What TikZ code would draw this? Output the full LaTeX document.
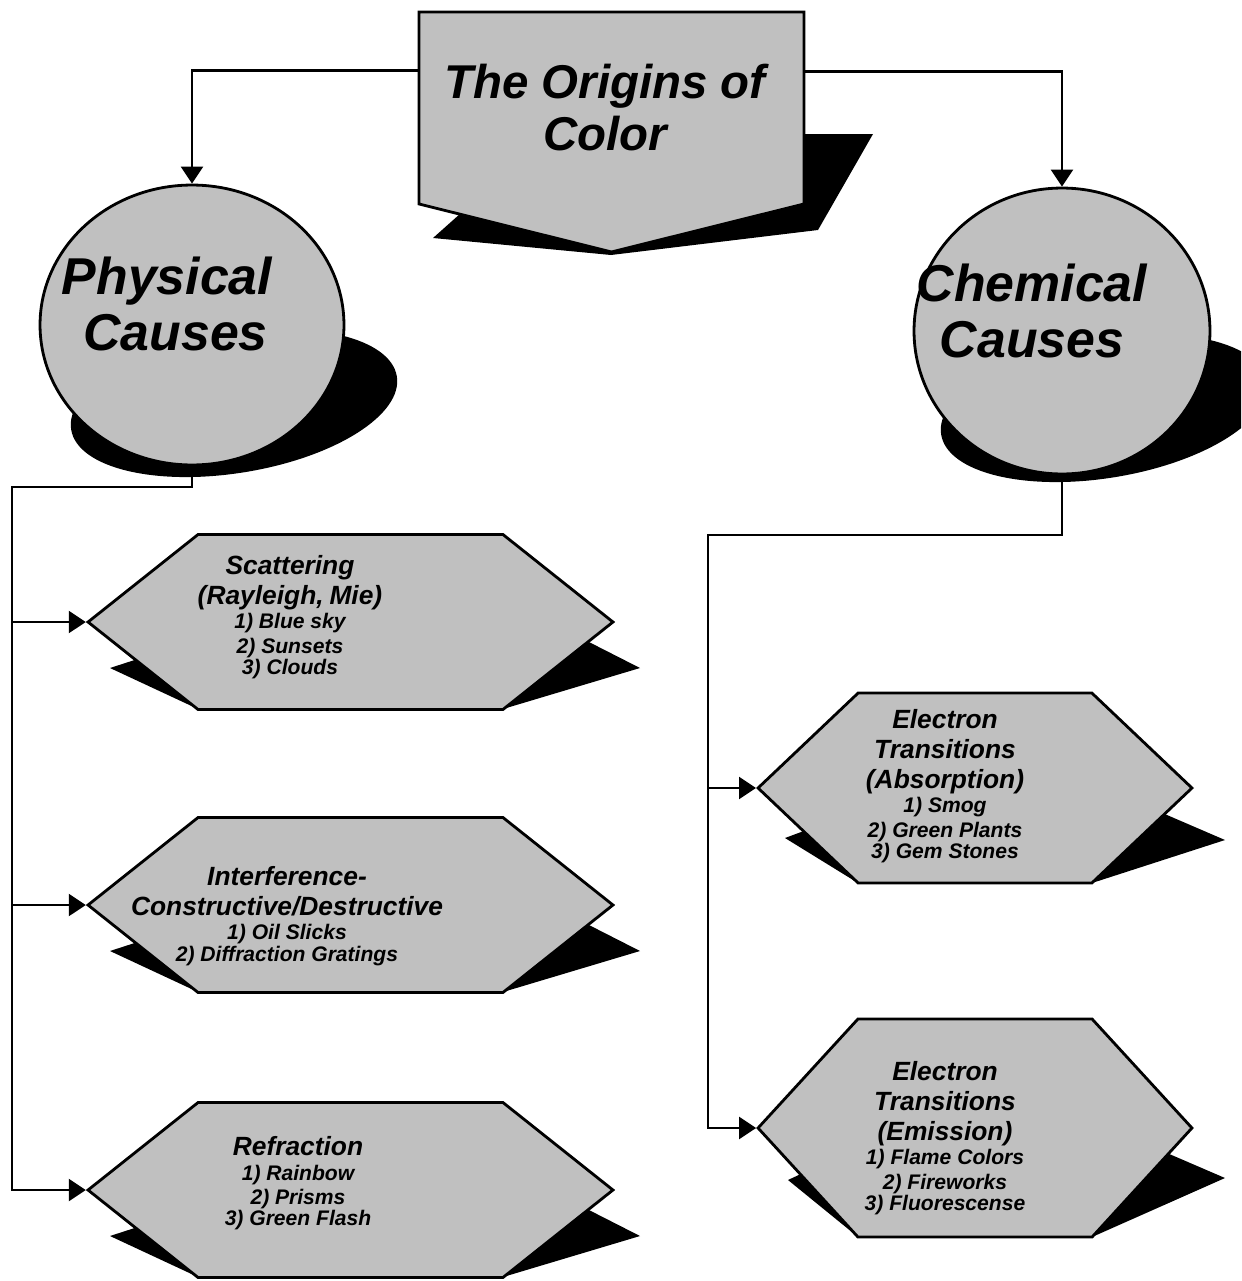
\documentclass[tikz,border=0pt]{standalone}
\usepackage{fontspec}
\setmainfont{Liberation Sans}
\usepackage{tikz}
\usetikzlibrary{positioning,arrows.meta,calc,shapes.geometric,shapes.symbols}
\definecolor{dotgray}{HTML}{C0C0C0}
\newcommand{\titlefont}{\fontsize{27}{29.5}\selectfont\bfseries\itshape}
\newcommand{\causefont}{\fontsize{29.5}{31.8}\selectfont\bfseries\itshape}
\newcommand{\hexhead}{\fontsize{15}{17}\selectfont}
\newcommand{\hexitem}{\fontsize{12}{14}\selectfont}

\begin{document}
\begin{tikzpicture}[
    x=0.02cm, y=-0.02cm,
    base/.style={draw=black, line width=1.6pt, fill=dotgray},
    titlebox/.style={base, shape=signal, signal to=south, signal pointer angle=152, minimum width=7.7cm, minimum height=3.84cm, inner sep=0pt},
    cause/.style={base, ellipse, inner sep=0pt},
    hexbox/.style={base, shape=signal, signal to=west and east, inner sep=0pt},
    leftbox/.style={hexbox, minimum width=10.5cm, minimum height=3.5cm, signal pointer angle=77},
    shadowfill/.style={fill=black},
    link/.style={line width=1.3pt},
    arr/.style={link, -{Triangle[length=3.4mm, width=4.4mm]}},
    causetext/.style={font=\causefont, align=center, anchor=north, inner sep=0pt},
    hextext/.style={font=\bfseries\itshape, align=center, text width=8cm, anchor=north, inner sep=0pt}
]
    \useasboundingbox (0,0) rectangle (1241,1281);
    \clip (0,0) rectangle (1241,1281);

    % Shadows
    \fill[shadowfill] (433,238) -- (611,255) -- (818,230) -- (873,134) -- (790,134) -- (470,205) -- cycle;
    \fill[shadowfill, rotate around={9.3:(234,403)}] (234,403) ellipse [x radius=165, y radius=70];
    \fill[shadowfill, rotate around={9.3:(1104,408)}] (1104,408) ellipse [x radius=165, y radius=70];
    \fill[shadowfill] (110,668) -- (150,655) -- (585,640) -- (640,668) -- (503,709) -- (198,709) -- cycle;
    \fill[shadowfill] (110,951) -- (150,938) -- (585,923) -- (640,951) -- (503,992) -- (198,992) -- cycle;
    \fill[shadowfill] (110,1236) -- (150,1223) -- (585,1208) -- (640,1236) -- (503,1277) -- (198,1277) -- cycle;
    \fill[shadowfill] (785,838) -- (820,825) -- (1160,812) -- (1225,840) -- (1092,883) -- (858,883) -- cycle;
    \fill[shadowfill] (788,1180) -- (820,1165) -- (1160,1150) -- (1225,1178) -- (1092,1237) -- (858,1237) -- cycle;

    % Title and the two causes
    \node[titlebox] (title) at (611.5,108) {};
    \node[cause, minimum width=6.08cm, minimum height=5.6cm] (phys) at (192,325) {};
    \node[cause, minimum width=5.92cm, minimum height=5.72cm] (chem) at (1062,331) {};

    % Physical causes
    \node[leftbox] (scat) at (350.5,622) {};
    \node[leftbox] (interf) at (350.5,905) {};
    \node[leftbox] (refr) at (350.5,1190) {};

    % Chemical causes
    \node[hexbox, minimum width=8.68cm, minimum height=3.8cm, signal pointer angle=87] (absorb) at (975,788) {};
    \node[hexbox, minimum width=8.68cm, minimum height=4.36cm, signal pointer angle=95] (emis) at (975,1128) {};

    % Texts
    \node[font=\titlefont, align=center, anchor=north, inner sep=0pt] (title-txt) at (605,64) {The Origins of\\Color};
    \node[causetext] (phys-txt) at (167,257) {Physical\\\hspace*{0.34cm}Causes};
    \node[causetext] (chem-txt) at (1032,264) {Chemical\\Causes};
    \node[hextext] (scat-txt) at (290,555) {\hexhead Scattering\\(Rayleigh, Mie)\\\hexitem 1) Blue sky\\2) Sunsets\\3) Clouds};
    \node[hextext] (interf-txt) at (287,866) {\hexhead Interference-\\Constructive/Destructive\\\hexitem 1) Oil Slicks\\2) Diffraction Gratings};
    \node[hextext] (refr-txt) at (298,1136) {\hexhead Refraction\\\hexitem 1) Rainbow\\2) Prisms\\3) Green Flash};
    \node[hextext] (absorb-txt) at (945,709) {\hexhead Electron\\Transitions\\(Absorption)\\\hexitem 1) Smog\\2) Green Plants\\3) Gem Stones};
    \node[hextext] (emis-txt) at (945,1061) {\hexhead Electron\\Transitions\\(Emission)\\\hexitem 1) Flame Colors\\2) Fireworks\\3) Fluorescense};

    % Connections
    \coordinate (lspine) at (12,487);
    \coordinate (rspine) at (708,535);
    \draw[arr] ($(title.west |- title.north)+(0,60)$) -| (phys.north);
    \draw[arr] ($(title.east |- title.north)+(0,61)$) -| (chem.north);
    \draw[arr] (phys.south) |- (lspine) |- (refr.west);
    \draw[arr] (lspine |- scat.west) -- (scat.west);
    \draw[arr] (lspine |- interf.west) -- (interf.west);
    \draw[arr] (chem.south) |- (rspine) |- (emis.west);
    \draw[arr] (rspine |- absorb.west) -- (absorb.west);
\end{tikzpicture}
\end{document}
